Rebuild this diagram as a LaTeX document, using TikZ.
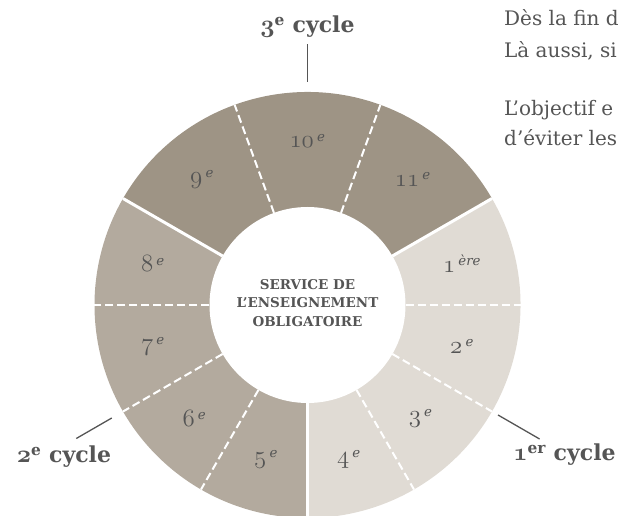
\documentclass[tikz,border=0pt]{standalone}
\usepackage{fontspec}
\setmainfont{DejaVu Serif}
\usepackage{tikz}
\usetikzlibrary{positioning}

\definecolor{zyklA}{HTML}{E0DBD4}
\definecolor{zyklB}{HTML}{B3AA9E}
\definecolor{zyklC}{HTML}{9E9485}
\definecolor{schrift}{HTML}{555555}

\newcommand{\ziffer}[1]{{\fontsize{27}{27}\usefont{OML}{cmm}{m}{it}#1}}
\newcommand{\fziffer}[1]{{\fontsize{28}{28}\usefont{OML}{cmm}{b}{it}#1}}

\begin{document}
\begin{tikzpicture}[x=1pt,y=1pt,
  trenn/.style={white, line width=3pt},
  strich/.style={white, line width=2pt, dash pattern=on 8pt off 4pt},
  klasse/.style={text=schrift, font=\fontsize{19}{19}\selectfont},
  zyklus/.style={text=schrift, font=\fontsize{22}{24}\selectfont\bfseries},
  absatz/.style={text=schrift, anchor=base west, inner sep=0pt, font=\fontsize{20}{24}\selectfont},
  zeiger/.style={draw=schrift, line width=1.3pt}]

\useasboundingbox (-307.5,-211) rectangle (310.5,305);

% Mittelpunkt
\coordinate (O) at (0,0);

% Ring
\fill[zyklA] (O) -- (30:213) arc[start angle=30, end angle=-90, radius=213] -- cycle;
\fill[zyklB] (O) -- (-90:213) arc[start angle=-90, end angle=-210, radius=213] -- cycle;
\fill[zyklC] (O) -- (150:213) arc[start angle=150, end angle=30, radius=213] -- cycle;
\fill[white] (O) circle (98);

% Trennlinien zwischen den Zyklen
\draw[trenn] (30:98) -- (30:213);
\draw[trenn] (150:98) -- (150:213);
\draw[trenn] (-90:98) -- (-90:213);

% Trennlinien zwischen den Klassen
\draw[strich] (0:98) -- (0:213);
\draw[strich] (-30:98) -- (-30:213);
\draw[strich] (-60:98) -- (-60:213);
\draw[strich] (180:98) -- (180:213);
\draw[strich] (210:98) -- (210:213);
\draw[strich] (240:98) -- (240:213);
\draw[strich] (70:98) -- (70:213);
\draw[strich] (110:98) -- (110:213);

% Klassen
\node[klasse] (K1) at (15:160) {\ziffer{1}\,\textsuperscript{\itshape ère}};
\node[klasse] (K2) at (-15:160) {\ziffer{2}\,\textsuperscript{\itshape e}};
\node[klasse] (K3) at (-45:160) {\ziffer{3}\,\textsuperscript{\itshape e}};
\node[klasse] (K4) at (-75:160) {\ziffer{4}\,\textsuperscript{\itshape e}};
\node[klasse] (K5) at (-105:160) {\ziffer{5}\,\textsuperscript{\itshape e}};
\node[klasse] (K6) at (-135:160) {\ziffer{6}\,\textsuperscript{\itshape e}};
\node[klasse] (K7) at (195:160) {\ziffer{7}\,\textsuperscript{\itshape e}};
\node[klasse] (K8) at (165:160) {\ziffer{8}\,\textsuperscript{\itshape e}};
\node[klasse] (K9) at (130:164) {\ziffer{9}\,\textsuperscript{\itshape e}};
\node[klasse] (K10) at (90:164) {\ziffer{10}\,\textsuperscript{\itshape e}};
\node[klasse] (K11) at (50:164) {\ziffer{11}\,\textsuperscript{\itshape e}};

% Mitte
\node[align=center, text=schrift, font=\fontsize{13.5}{18.5}\selectfont\bfseries] (M) at (0,2)
  {SERVICE DE\\L’ENSEIGNEMENT\\OBLIGATOIRE};

% Zyklen
\node[zyklus] (Z1) at (257,-150) {\fziffer{1}\textsuperscript{er} cycle};
\node[zyklus] (Z2) at (-243.5,-152) {\fziffer{2}\textsuperscript{e} cycle};
\node[zyklus] (Z3) at (0,278) {\fziffer{3}\textsuperscript{e} cycle};
\coordinate (Z1a) at (-30:220);
\coordinate (Z1b) at (-30:268);
\coordinate (Z2a) at (210:226);
\coordinate (Z2b) at (210:267);
\coordinate (Z3a) at (90:223);
\draw[zeiger] (Z1a) -- (Z1b);
\draw[zeiger] (Z2a) -- (Z2b);
\draw[zeiger, shorten <=3pt] (Z3) -- (Z3a);

% Text rechts
\node[absatz] (P1) at (196.5,279) {Dès la fin d};
\node[absatz] (P2) at (196.5,247) {Là aussi, si};
\node[absatz] (P3) at (196.5,189) {L’objectif e};
\node[absatz] (P4) at (196.5,159) {d’éviter les};

\end{tikzpicture}
\end{document}
